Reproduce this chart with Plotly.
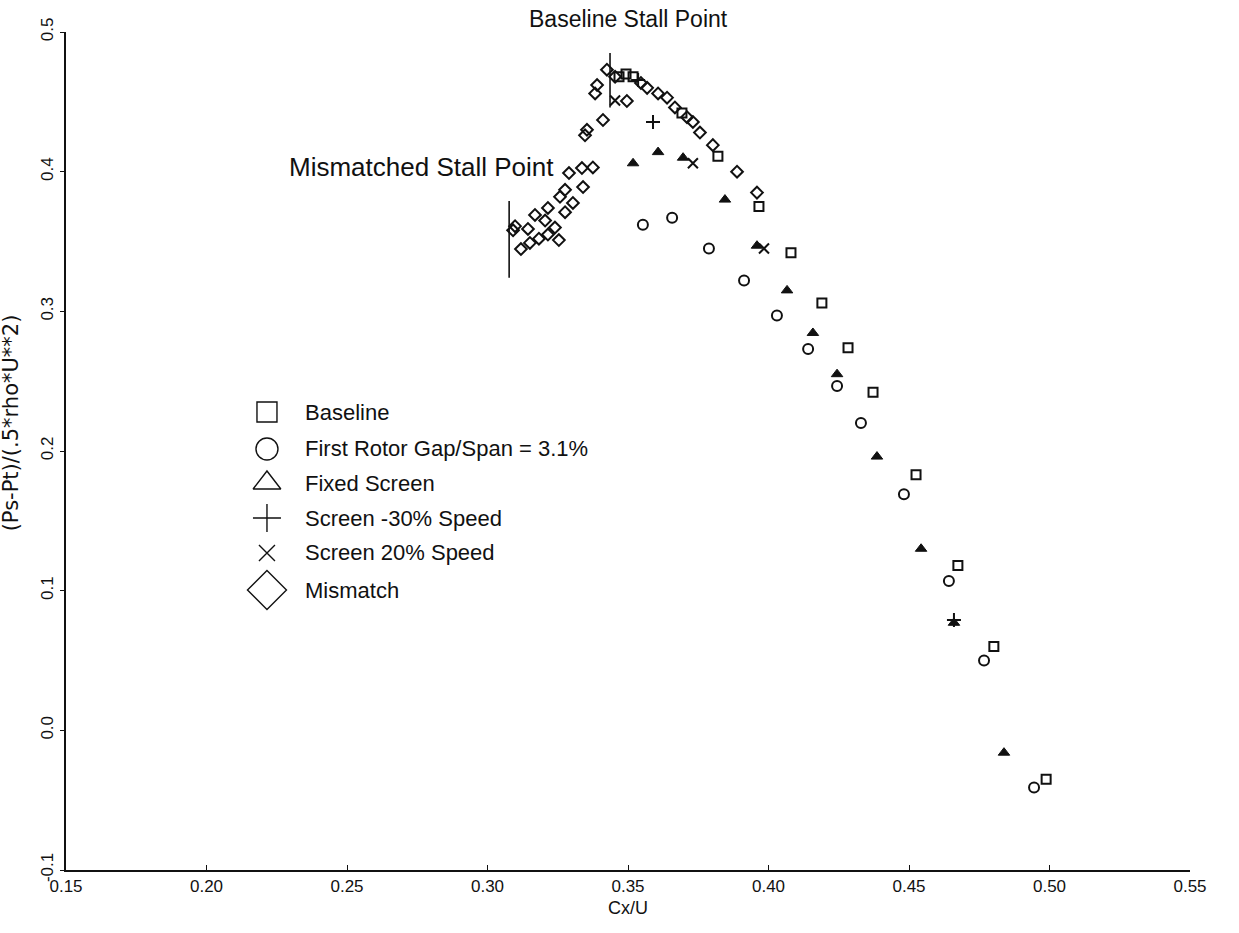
import plotly.graph_objects as go

# Compressor characteristic: Cx/U vs (Ps-Pt)/(.5*rho*U**2)
baseline_x = [0.3468, 0.3493, 0.3518, 0.3692, 0.3820, 0.3966, 0.4080, 0.4190,
              0.4283, 0.4372, 0.4525, 0.4674, 0.4802, 0.4988]
baseline_y = [0.468, 0.470, 0.468, 0.442, 0.411, 0.375, 0.342, 0.306,
              0.274, 0.242, 0.183, 0.118, 0.060, -0.035]

gap_x = [0.3553, 0.3657, 0.3788, 0.3913, 0.4030, 0.4141, 0.4244, 0.4329,
         0.4482, 0.4642, 0.4767, 0.4945]
gap_y = [0.362, 0.367, 0.345, 0.322, 0.297, 0.273, 0.2465, 0.220,
         0.169, 0.107, 0.050, -0.041]

fixed_x = [0.3518, 0.3607, 0.3696, 0.3845, 0.3959, 0.4066, 0.4158, 0.4244,
           0.4386, 0.4543, 0.4660, 0.4838]
fixed_y = [0.406, 0.414, 0.410, 0.380, 0.347, 0.315, 0.2845, 0.255,
           0.196, 0.130, 0.077, -0.016]

minus30_x = [0.3536, 0.3589, 0.4660]
minus30_y = [0.4656, 0.4356, 0.079]

plus20_x = [0.3454, 0.3731, 0.3984]
plus20_y = [0.451, 0.406, 0.345]

mismatch_x = [0.3425, 0.3390, 0.3383, 0.3411, 0.3354, 0.3347, 0.3568, 0.3607,
              0.3639, 0.3667, 0.3710, 0.3731, 0.3756, 0.3802, 0.3888, 0.3959,
              0.3454, 0.3546, 0.3496, 0.3375, 0.3336, 0.3290, 0.3340, 0.3276,
              0.3258, 0.3304, 0.3276, 0.3215, 0.3169, 0.3205, 0.3240, 0.3144,
              0.3098, 0.3254, 0.3215, 0.3183, 0.3151, 0.3119, 0.3091]
mismatch_y = [0.473, 0.462, 0.456, 0.437, 0.430, 0.426, 0.460, 0.456,
              0.453, 0.446, 0.439, 0.4356, 0.428, 0.419, 0.400, 0.385,
              0.468, 0.4635, 0.4506, 0.403, 0.4026, 0.399, 0.389, 0.387,
              0.382, 0.3776, 0.371, 0.374, 0.369, 0.365, 0.360, 0.359,
              0.361, 0.351, 0.355, 0.352, 0.349, 0.3446, 0.358]

# Stall point markers (vertical bars)
baseline_stall_x = 0.3436
baseline_stall_y = [0.446, 0.485]
mismatch_stall_x = 0.3077
mismatch_stall_y = [0.324, 0.379]

legend_names = ["Baseline", "First Rotor Gap/Span = 3.1%", "Fixed Screen",
                "Screen -30% Speed", "Screen 20% Speed", "Mismatch"]
legend_symbols = ["square-open", "circle-open", "triangle-up-open",
                  "cross-thin-open", "x-thin-open", "diamond-open"]
legend_sizes = [20, 22, 24, 20, 16, 30]

x_ticks = [0.15, 0.20, 0.25, 0.30, 0.35, 0.40, 0.45, 0.50, 0.55]
y_ticks = [-0.1, 0.0, 0.1, 0.2, 0.3, 0.4, 0.5]

FONT = "Liberation Sans, Arial, Helvetica, sans-serif"
BLACK = "#111111"

fig = go.Figure()

def add_series(xs, ys, symbol, size, lw=2.0, fill=None):
    fig.add_trace(go.Scatter(
        x=xs, y=ys, mode="markers", showlegend=False, hoverinfo="x+y",
        marker=dict(symbol=symbol, size=size, color=fill or BLACK,
                    line=dict(color=BLACK, width=lw))))

add_series(baseline_x, baseline_y, "square-open", 9)
add_series(gap_x, gap_y, "circle-open", 10)
add_series(fixed_x, fixed_y, "triangle-up", 10, lw=1)
add_series(minus30_x, minus30_y, "cross-thin-open", 10)
add_series(plus20_x, plus20_y, "x-thin-open", 10)
add_series(mismatch_x, mismatch_y, "diamond-open", 9)

for sx, sy in [(baseline_stall_x, baseline_stall_y), (mismatch_stall_x, mismatch_stall_y)]:
    fig.add_trace(go.Scatter(x=[sx, sx], y=sy, mode="lines", showlegend=False,
                             hoverinfo="skip", line=dict(color=BLACK, width=1.6)))

# Hand-drawn style key on an overlay of unit axes
key_x = 0.1788
key_rows = [0.5465, 0.5024, 0.4618, 0.4200, 0.3783, 0.3341]
for name, sym, sz, ky in zip(legend_names, legend_symbols, legend_sizes, key_rows):
    fig.add_trace(go.Scatter(
        x=[key_x], y=[ky], xaxis="x2", yaxis="y2", mode="markers",
        showlegend=False, hoverinfo="skip",
        marker=dict(symbol=sym, size=sz, color=BLACK, line=dict(color=BLACK, width=1.4))))
    fig.add_annotation(x=0.2109, y=ky, xref="paper", yref="paper", text=name,
                       showarrow=False, xanchor="left", yanchor="middle",
                       font=dict(family=FONT, size=22, color=BLACK))

fig.add_annotation(x=0.35, y=1.0, xref="x", yref="paper",
                   text="Baseline Stall Point", showarrow=False, xanchor="center",
                   yanchor="bottom", yshift=-2,
                   font=dict(family=FONT, size=23, color=BLACK))
fig.add_annotation(x=0.3245, y=0.403, xref="x", yref="y",
                   text="Mismatched Stall Point", showarrow=False, xanchor="right",
                   yanchor="middle", font=dict(family=FONT, size=26, color=BLACK))

# Y-axis title, set slightly above the axis centre
fig.add_annotation(x=0, y=0.533, xref="paper", yref="paper", xshift=-55,
                   text="(Ps-Pt)/(.5*rho*U**2)", showarrow=False, textangle=-90,
                   xanchor="center", yanchor="middle",
                   font=dict(family="DejaVu Sans, sans-serif", size=21, color=BLACK))

fig.update_layout(
    width=1239, height=933,
    margin=dict(l=66, r=49, t=32, b=63),
    paper_bgcolor="white", plot_bgcolor="white",
    font=dict(family=FONT, color=BLACK),
    showlegend=False,
    xaxis=dict(range=[0.15, 0.55], tickvals=x_ticks,
               ticktext=[f"{v:.2f}" for v in x_ticks],
               showgrid=False, zeroline=False, showline=True, linecolor=BLACK,
               linewidth=1.5, ticks="inside", ticklen=5, tickcolor=BLACK,
               tickfont=dict(size=17), title=dict(text="Cx/U", font=dict(size=18), standoff=6)),
    yaxis=dict(range=[-0.1, 0.5], tickvals=y_ticks,
               ticktext=[f"{v:.1f}" for v in y_ticks],
               tickangle=-90, showgrid=False, zeroline=False, showline=True,
               linecolor=BLACK, linewidth=1.5, ticks="outside", ticklen=4,
               tickcolor=BLACK, tickfont=dict(size=17)),
    xaxis2=dict(range=[0, 1], overlaying="x", anchor="y2", visible=False),
    yaxis2=dict(range=[0, 1], overlaying="y", anchor="x2", visible=False),
)

fig.write_html("out.html")
